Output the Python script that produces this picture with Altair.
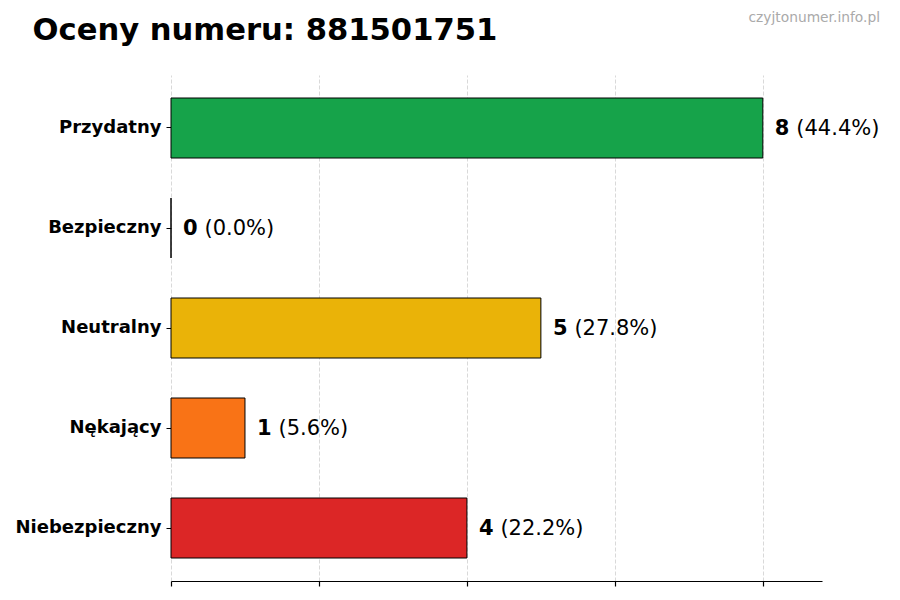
import altair as alt
import pandas as pd

categories = ["Przydatny", "Bezpieczny", "Neutralny", "Nękający", "Niebezpieczny"]
counts = [8, 0, 5, 1, 4]
percents = ["(44.4%)", "(0.0%)", "(27.8%)", "(5.6%)", "(22.2%)"]
colors = ["#16a34a", "#2563eb", "#eab308", "#f97316", "#dc2626"]
x_ticks = [0, 2, 4, 6, 8]
title_text = "Oceny numeru: 881501751"
watermark_text = "czyjtonumer.info.pl"

df = pd.DataFrame({
    "kategoria": categories,
    "liczba": counts,
    "procent": percents,
    "kolor": colors,
})

FONT = "DejaVu Sans"

y_enc = alt.Y(
    "kategoria:N",
    sort=categories,
    title=None,
    scale=alt.Scale(paddingInner=0.4, paddingOuter=0.23),
    axis=alt.Axis(
        domain=False,
        ticks=True,
        tickSize=5,
        tickColor="black",
        labelPadding=5,
        labelFont=FONT,
        labelFontSize=18,
        labelFontWeight="bold",
        labelColor="black",
        grid=False,
    ),
)

x_enc = alt.X(
    "liczba:Q",
    title=None,
    scale=alt.Scale(domain=[0, 8.8], nice=False, zero=True),
    axis=alt.Axis(
        values=x_ticks,
        labels=False,
        domain=True,
        domainColor="black",
        domainWidth=1.2,
        ticks=True,
        tickSize=5,
        tickColor="black",
        tickWidth=1.2,
        grid=True,
        gridColor="#cfcfcf",
        gridDash=[4, 2],
        gridWidth=0.8,
    ),
)

base = alt.Chart(df)

bars = base.mark_bar(stroke="black", strokeWidth=1, opacity=1).encode(
    x=x_enc,
    y=y_enc,
    color=alt.Color("kolor:N", scale=None, legend=None),
)

count_text = base.mark_text(
    align="left", baseline="middle", dx=12, dy=1, font=FONT, fontSize=21,
    fontWeight="bold", color="black",
).encode(x="liczba:Q", y=alt.Y("kategoria:N", sort=categories), text="liczba:Q")

pct_text = base.mark_text(
    align="left", baseline="middle", dx=33.5, dy=1, font=FONT, fontSize=21,
    color="black",
).encode(x="liczba:Q", y=alt.Y("kategoria:N", sort=categories), text="procent:N")

title_df = pd.DataFrame({"t": [title_text]})
title_mark = alt.Chart(title_df).mark_text(
    align="left", baseline="alphabetic", font=FONT, fontSize=30.6,
    fontWeight="bold", color="black",
).encode(text="t:N", x=alt.value(-138.5), y=alt.value(-35))

wm_df = pd.DataFrame({"t": [watermark_text]})
wm_mark = alt.Chart(wm_df).mark_text(
    align="right", baseline="middle", font=FONT, fontSize=13.8,
    color="#aaaaaa",
).encode(text="t:N", x=alt.value(709), y=alt.value(-57.5))

chart = alt.layer(bars, count_text, pct_text, title_mark, wm_mark).properties(
    width=651,
    height=506,
    autosize=alt.AutoSizeParams(type="none"),
    padding={"left": 163, "top": 67, "right": 70, "bottom": 10},
).configure(background="white").configure_view(stroke=None, strokeWidth=0)

chart.save("out.html", embed_options={"renderer": "svg", "actions": False})
